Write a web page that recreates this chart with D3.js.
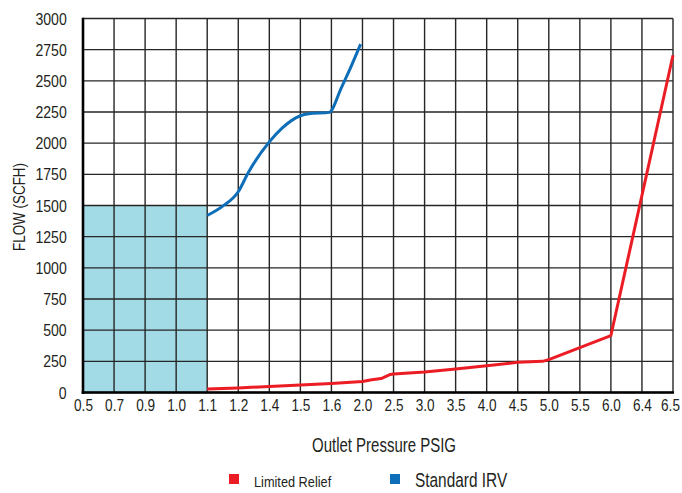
<!DOCTYPE html>
<html>
<head>
<meta charset="utf-8">
<script src="https://cdn.jsdelivr.net/npm/d3@7"></script>
<style>
  html, body { margin: 0; padding: 0; background: #fff; }
  svg { display: block; }
  text { font-family: "Liberation Sans", Arial, sans-serif; fill: #231f20; }
</style>
</head>
<body>
<svg id="chart" width="682" height="493"></svg>
<script>
// Outlet pressure ticks (PSIG) — spaced evenly on the axis
const pressureTicks = [0.5, 0.7, 0.9, 1.0, 1.1, 1.2, 1.4, 1.5, 1.6, 2.0, 2.5, 3.0, 3.5, 4.0, 4.5, 5.0, 5.5, 6.0, 6.4, 6.5];
const pressureLabels = ["0.5", "0.7", "0.9", "1.0", "1.1", "1.2", "1.4", "1.5", "1.6", "2.0", "2.5", "3.0", "3.5", "4.0", "4.5", "5.0", "5.5", "6.0", "6.4", "6.5"];
const flowTicks = [0, 250, 500, 750, 1000, 1250, 1500, 1750, 2000, 2250, 2500, 2750, 3000];

// Standard IRV flow curve: [pressure, SCFH]
const standardIRV = [
  [1.1, 1420], [1.15, 1495], [1.2, 1610], [1.264, 1763], [1.4, 2010],
  [1.441, 2120], [1.5, 2220], [1.527, 2236], [1.594, 2247], [1.6, 2262],
  [1.716, 2428], [1.85, 2610], [1.976, 2794]
];

// Limited Relief flow curve: [pressure, SCFH]
const limitedRelief = [
  [1.1, 28], [1.2, 36], [1.4, 49], [1.5, 60], [1.6, 73], [2.0, 89],
  [2.15, 102], [2.3, 112], [2.45, 145], [2.5, 149], [3.0, 165], [3.5, 189],
  [4.0, 215], [4.5, 242], [4.9, 250], [5.0, 264], [6.0, 457], [6.5, 2705]
];

// Shaded operating region: pressure range and flow ceiling
const shadedPressure = [0.5, 1.1];
const shadedFlow = 1500;

const legendNames = ["Limited Relief", "Standard IRV"];
const legendColors = ["#ec1c24", "#0f6eb8"];

const svg = d3.select("#chart");
const plotLeft = 83, plotRight = 673, plotTop = 18.5, plotBottom = 392.5;

// Horizontally squeezed type, for a condensed look
function condense(sel, sx) {
  sel.each(function () {
    const t = d3.select(this);
    const x0 = +t.attr("x") || 0;
    t.attr("x", x0 / sx).attr("transform", `scale(${sx},1)`);
  });
}

// Piecewise-linear x scale: every tick gets an equal slot
const x = d3.scaleLinear()
  .domain(pressureTicks)
  .range(pressureTicks.map((d, i) => plotLeft + i * (plotRight - plotLeft) / (pressureTicks.length - 1)));

const y = d3.scaleLinear().domain([0, 3000]).range([plotBottom, plotTop]);

// Shaded region
svg.append("rect")
  .attr("x", x(shadedPressure[0]))
  .attr("y", y(shadedFlow))
  .attr("width", x(shadedPressure[1]) - x(shadedPressure[0]))
  .attr("height", y(0) - y(shadedFlow))
  .attr("fill", "#a2dbe6");

// Grid
const grid = svg.append("g").attr("stroke", "#262626").attr("stroke-width", 1.4);
grid.selectAll("line.v").data(pressureTicks).join("line")
  .attr("class", "v")
  .attr("x1", d => x(d)).attr("x2", d => x(d))
  .attr("y1", y(3000)).attr("y2", y(0));
grid.selectAll("line.h").data(flowTicks).join("line")
  .attr("class", "h")
  .attr("x1", plotLeft).attr("x2", plotRight)
  .attr("y1", d => y(d)).attr("y2", d => y(d));

// Lines
svg.append("path")
  .datum(limitedRelief)
  .attr("d", d3.line().x(d => x(d[0])).y(d => y(d[1])))
  .attr("fill", "none").attr("stroke", legendColors[0]).attr("stroke-width", 3)
  .attr("stroke-linejoin", "round");
svg.append("path")
  .datum(standardIRV)
  .attr("d", d3.line().x(d => x(d[0])).y(d => y(d[1])).curve(d3.curveMonotoneX))
  .attr("fill", "none").attr("stroke", legendColors[1]).attr("stroke-width", 3)
  .attr("stroke-linejoin", "round");

// Axis lines
svg.append("line").attr("x1", plotLeft).attr("x2", plotLeft).attr("y1", y(3000) - 0.7).attr("y2", y(0) + 1.5)
  .attr("stroke", "#000").attr("stroke-width", 2.6);
svg.append("line").attr("x1", plotLeft - 1.3).attr("x2", plotRight + 1).attr("y1", y(0)).attr("y2", y(0))
  .attr("stroke", "#000").attr("stroke-width", 2.6);

// Axes (labels only)
const xAxis = d3.axisBottom(x).tickValues(pressureTicks)
  .tickFormat((d, i) => pressureLabels[i]).tickSize(0).tickPadding(6.5);
const xg = svg.append("g").attr("transform", `translate(0,${plotBottom})`).call(xAxis)
  .call(g => g.select(".domain").remove())
  .call(g => g.attr("font-family", null).attr("font-size", null));
xg.selectAll("text").attr("font-size", 17).attr("fill", "#231f20").call(condense, 0.8);
xg.select(".tick:last-of-type text").attr("x", -3 / 0.8);

const yAxis = d3.axisLeft(y).tickValues(flowTicks).tickFormat(d3.format("d")).tickSize(0).tickPadding(16.3);
svg.append("g").attr("transform", `translate(${plotLeft},0)`).call(yAxis)
  .call(g => g.select(".domain").remove())
  .call(g => g.attr("font-family", null).attr("font-size", null))
  .selectAll("text").attr("font-size", 16).attr("dy", "0.35em").attr("fill", "#231f20").call(condense, 0.88);

// Axis titles
svg.append("g").attr("transform", "translate(25,207) rotate(-90)")
  .append("text")
  .attr("text-anchor", "middle")
  .attr("font-size", 16)
  .text("FLOW (SCFH)")
  .call(condense, 0.84);

svg.append("g").attr("transform", "translate(384,452)")
  .append("text")
  .attr("text-anchor", "middle")
  .attr("font-size", 20)
  .text("Outlet Pressure PSIG")
  .call(condense, 0.75);

// Legend
const legend = svg.append("g");
const legendX = [229, 390];
const legendFont = [14.5, 19.5];
const legendSqueeze = [0.88, 0.79];
legendNames.forEach((name, i) => {
  legend.append("rect").attr("x", legendX[i]).attr("y", 474).attr("width", 10).attr("height", 10)
    .attr("fill", legendColors[i]);
  legend.append("g").attr("transform", `translate(${legendX[i] + 25},486.5)`)
    .append("text")
    .attr("font-size", legendFont[i]).text(name)
    .call(condense, legendSqueeze[i]);
});
</script>
</body>
</html>
